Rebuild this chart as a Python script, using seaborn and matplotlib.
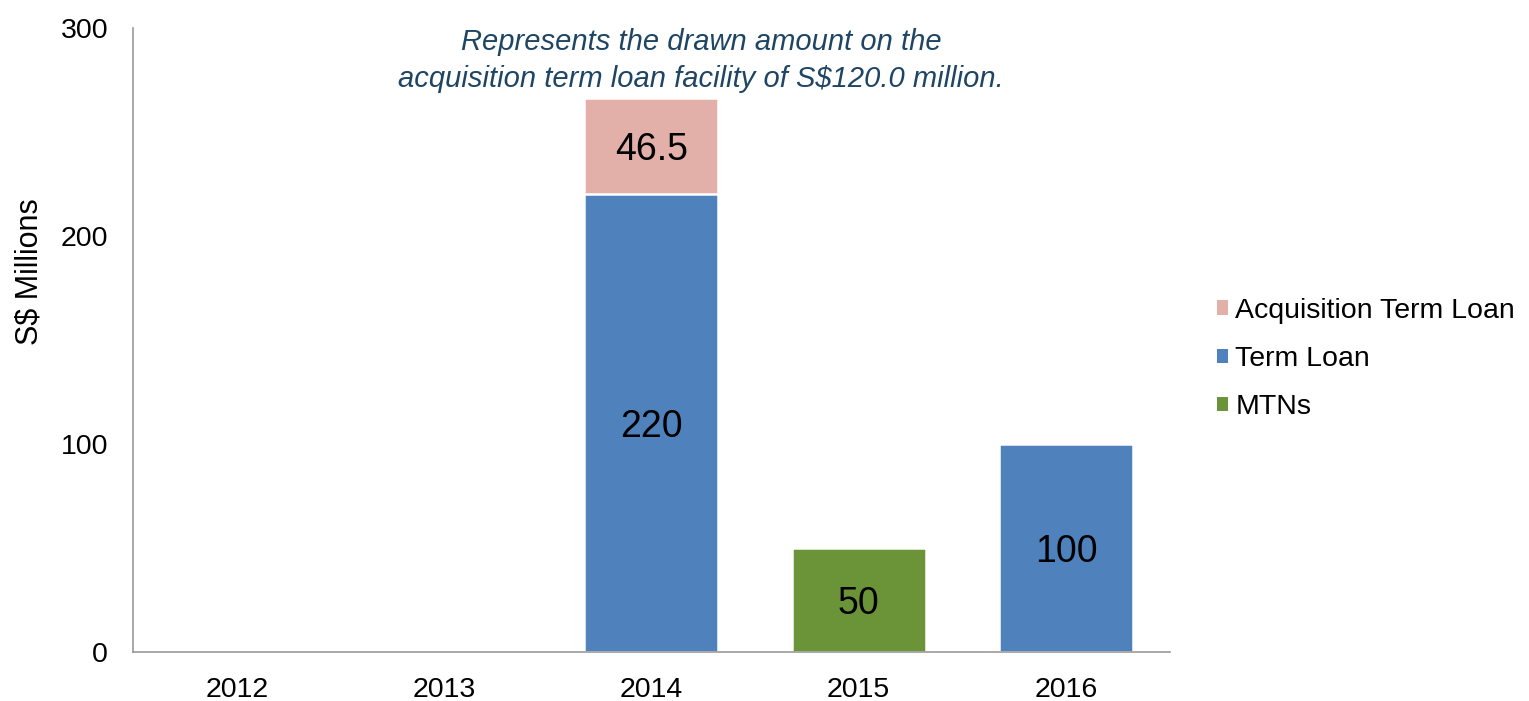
import matplotlib
matplotlib.use("Agg")
import matplotlib.pyplot as plt
import seaborn as sns
import pandas as pd
from matplotlib.patches import Patch

years = ["2012", "2013", "2014", "2015", "2016"]
mtns = [0, 0, 0, 50, 0]
term_loan = [0, 0, 220, 0, 100]
acq_term_loan = [0, 0, 46.5, 0, 0]

series_names = ["Acquisition Term Loan", "Term Loan", "MTNs"]
colors = {"Acquisition Term Loan": "#E3AFA9", "Term Loan": "#4F81BD", "MTNs": "#6B9338"}

sns.set_theme(style="white")
plt.rcParams["font.family"] = ["Liberation Sans", "DejaVu Sans"]
plt.rcParams["text.color"] = "black"

df = pd.DataFrame({"year": years, "mtns": mtns, "term": term_loan, "acq": acq_term_loan})
df["top"] = [m + t + a for m, t, a in zip(mtns, term_loan, acq_term_loan)]
df["mid"] = [m + t for m, t in zip(mtns, term_loan)]

fig = plt.figure(figsize=(15.29, 7.01), dpi=100)
ax = fig.add_axes([0.087, 0.07, 0.678, 0.89])

bar_kw = dict(width=0.645, edgecolor="white", linewidth=1.8)
# stacked layers: draw cumulative heights from the top layer down
sns.barplot(data=df, x="year", y="top", color=colors["Acquisition Term Loan"], saturation=1, ax=ax, **bar_kw)
sns.barplot(data=df, x="year", y="mid", color=colors["Term Loan"], saturation=1, ax=ax, **bar_kw)
sns.barplot(data=df, x="year", y="mtns", color=colors["MTNs"], saturation=1, ax=ax, **bar_kw)

# segment value labels
for i in range(len(years)):
    base = 0
    for val in (mtns[i], term_loan[i], acq_term_loan[i]):
        if val > 0:
            ax.text(i, base + val / 2, f"{val:g}", ha="center", va="center_baseline",
                    fontsize=27, color="black")
        base += val

ax.set_xlim(-0.5, 4.5)
ax.set_ylim(0, 300)
ax.set_yticks([0, 100, 200, 300])
ax.set_xlabel("")
ax.set_ylabel("S$ Millions", fontsize=22, color="black")
ax.yaxis.set_label_coords(-0.085, 0.61)
ax.tick_params(axis="both", labelsize=20.5, length=0, colors="black")
ax.tick_params(axis="x", pad=18)
ax.tick_params(axis="y", pad=18)
for side in ("top", "right"):
    ax.spines[side].set_visible(False)
for side in ("left", "bottom"):
    ax.spines[side].set_color("#9A9A9A")
    ax.spines[side].set_linewidth(1.2)

ax.text(2.24, 284.5, "Represents the drawn amount on the\nacquisition term loan facility of S$120.0 million.",
        ha="center", va="center", fontsize=21, style="italic", color="#1F4564", linespacing=1.4)

handles = [Patch(facecolor=colors[n], edgecolor="none", label=n) for n in series_names]
leg = fig.legend(handles=handles, loc="center left", bbox_to_anchor=(0.779, 0.488), frameon=False,
                 fontsize=20.5, handlelength=0.4, handleheight=0.4, handletextpad=0.25,
                 labelspacing=0.78)
for t in leg.get_texts():
    t.set_color("black")

fig.savefig("out.png", dpi=100, facecolor="white")
